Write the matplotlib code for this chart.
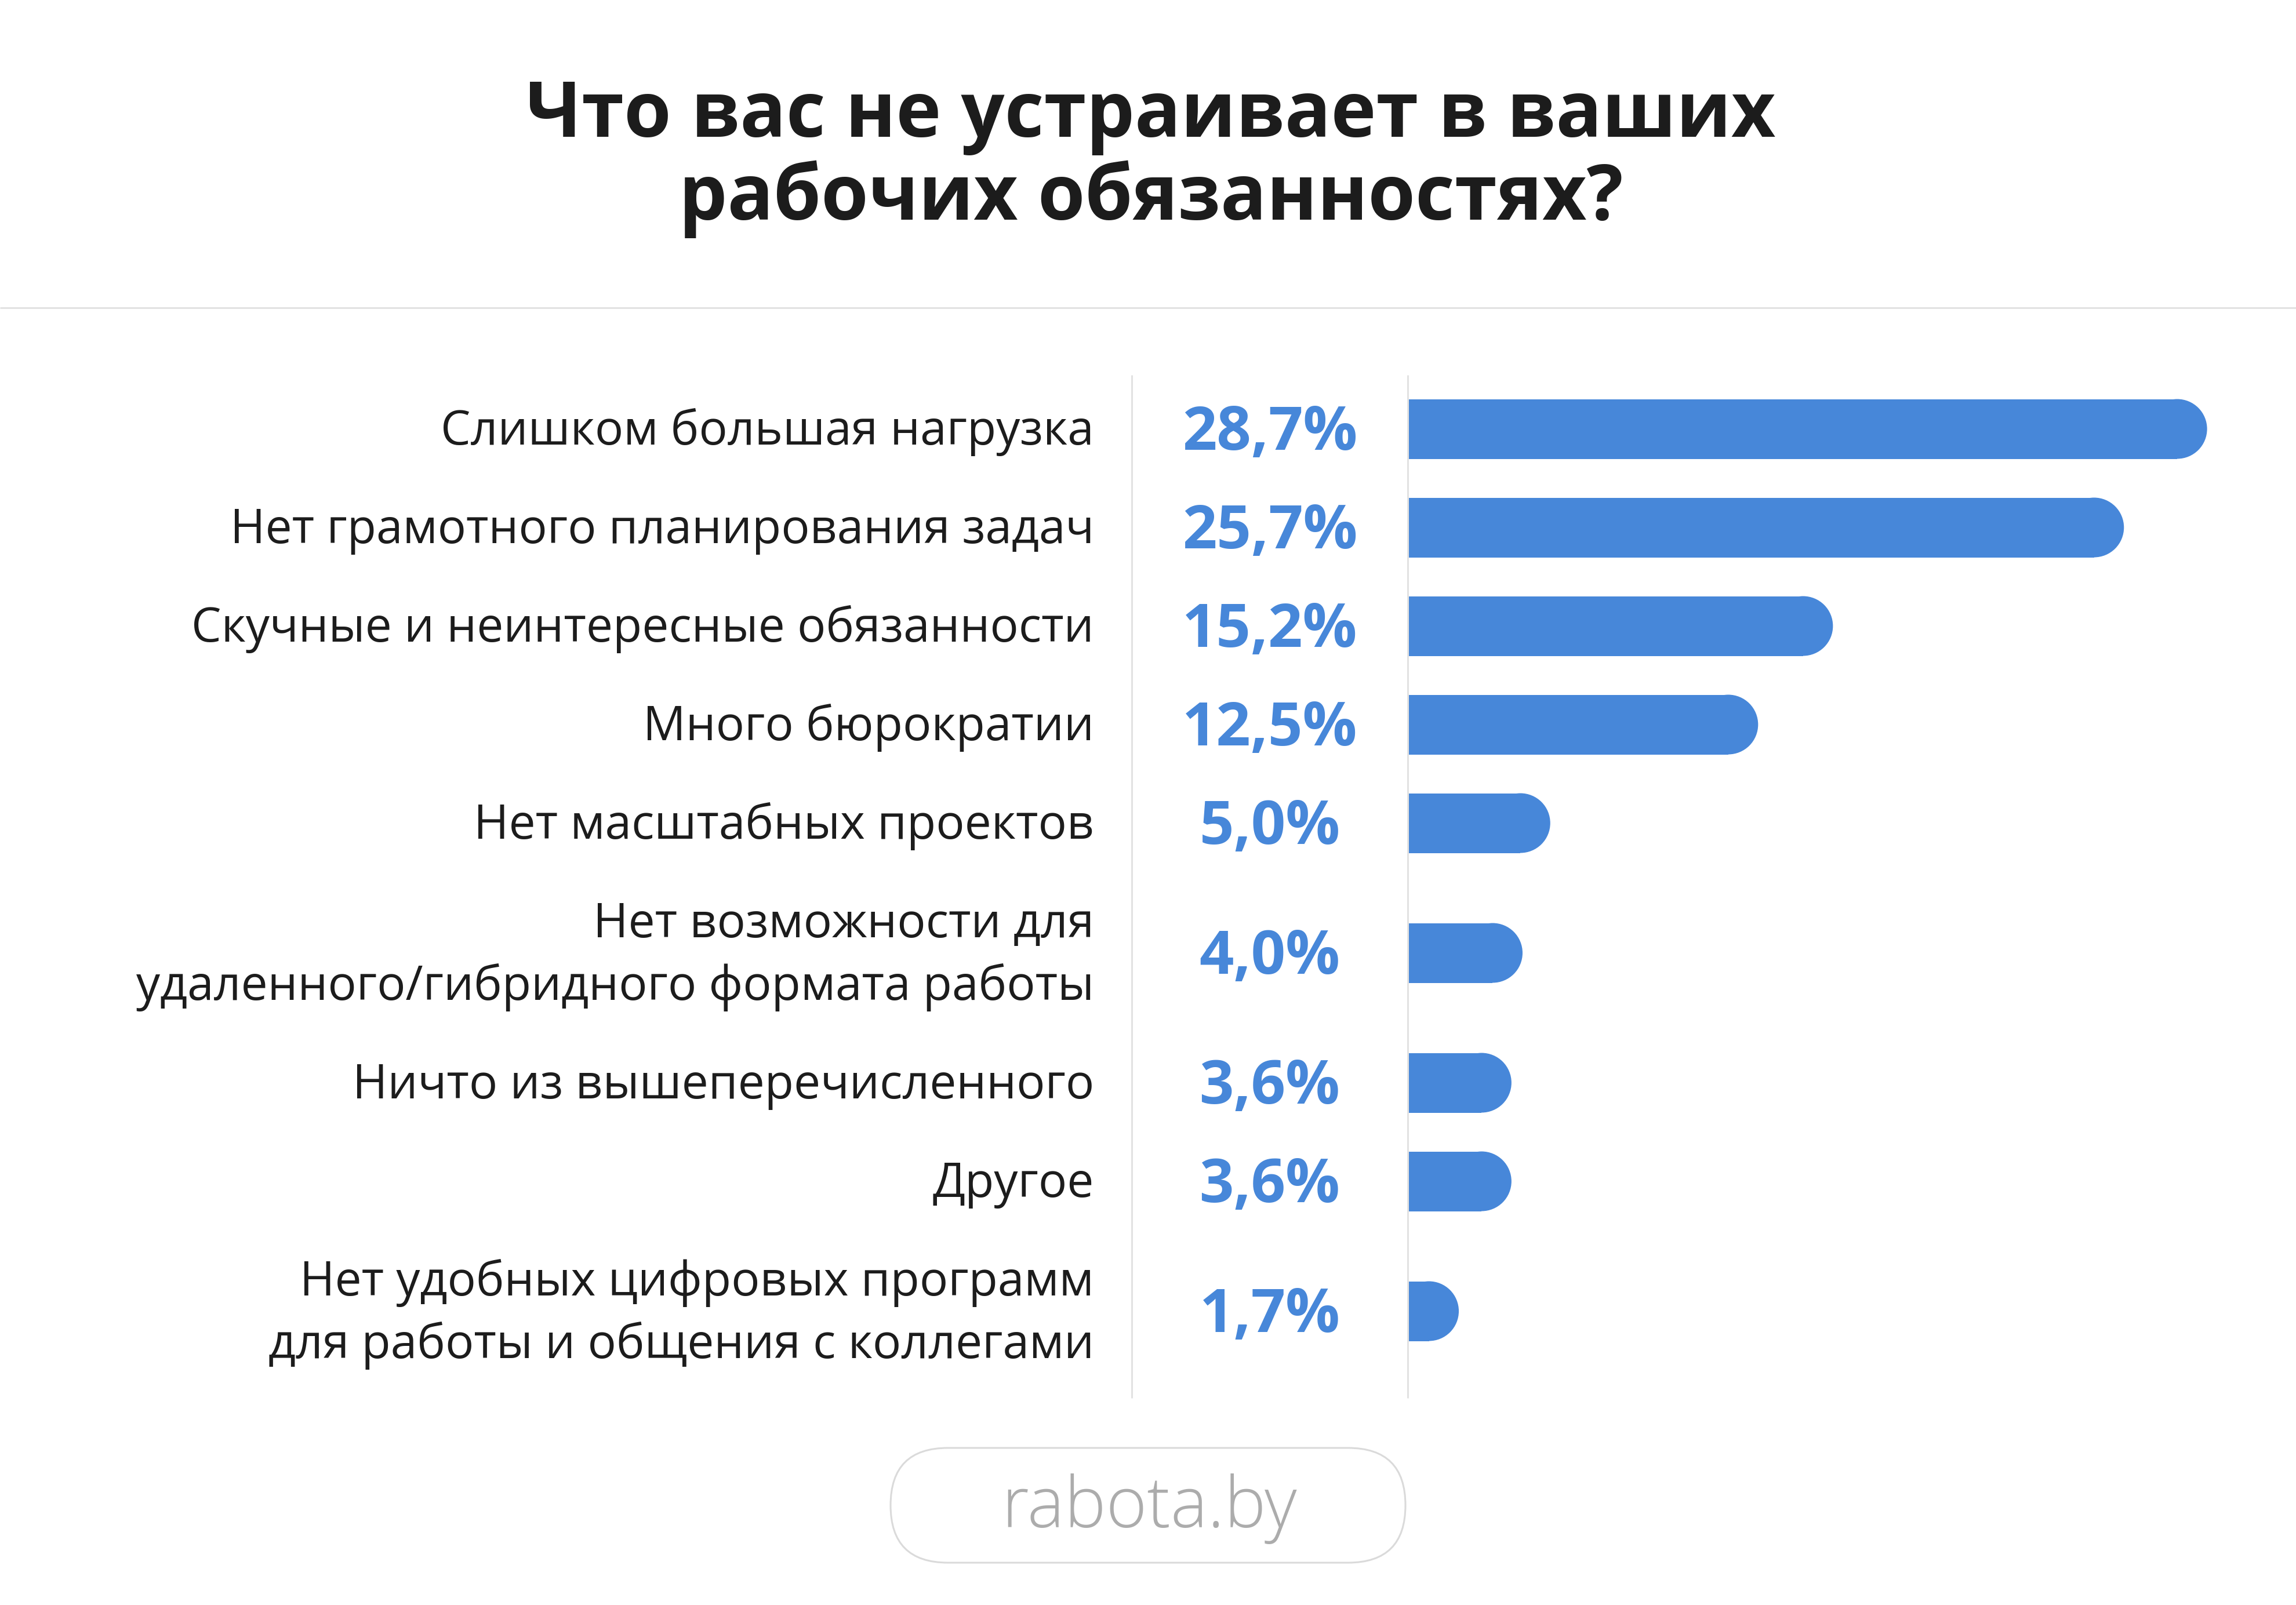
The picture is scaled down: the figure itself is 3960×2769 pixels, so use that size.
import matplotlib
matplotlib.use("Agg")
import matplotlib.pyplot as plt
from matplotlib.patches import Ellipse, FancyBboxPatch

# ---- data ----
categories = [
    "Слишком большая нагрузка",
    "Нет грамотного планирования задач",
    "Скучные и неинтересные обязанности",
    "Много бюрократии",
    "Нет масштабных проектов",
    "Нет возможности для\nудаленного/гибридного формата работы",
    "Ничто из вышеперечисленного",
    "Другое",
    "Нет удобных цифровых программ\nдля работы и общения с коллегами",
]
values = [28.7, 25.7, 15.2, 12.5, 5.0, 4.0, 3.6, 3.6, 1.7]
value_labels = ["28,7%", "25,7%", "15,2%", "12,5%", "5,0%", "4,0%", "3,6%", "3,6%", "1,7%"]
title = "Что вас не устраивает в ваших\nрабочих обязанностях?"
source = "rabota.by"

# ---- style ----
W, H, DPI = 3960, 2769, 100
BLUE = "#4787d9"
TXT = "#1c1c1c"
GRID = "#e2e2e2"
FONT = ["Open Sans", "DejaVu Sans"]
PX_PER_PCT = 47.8
BAR_H = 103
BAR_X0 = 2430

fig = plt.figure(figsize=(W / DPI, H / DPI), dpi=DPI, facecolor="white")
deco = fig.add_axes([0, 0, 1, 1])
deco.set_xlim(0, W)
deco.set_ylim(H, 0)
deco.axis("off")

# row centers from number of lines
centers = []
y = 740
for i, c in enumerate(categories):
    if i > 0:
        extra = (categories[i - 1].count("\n")) + c.count("\n")
        y += 170 + 54 * extra
    centers.append(y)

# title
for k, line in enumerate(title.split("\n")):
    deco.text(1985, 236 + 143 * k, line, ha="center", va="baseline",
              fontsize=95, fontweight="bold", color=TXT, family=FONT)

# separator
deco.plot([0, W], [531, 531], color=GRID, lw=2.2, solid_capstyle="butt")

# vertical lines
for xv in (1952, 2428):
    deco.plot([xv, xv], [647, 2412], color=GRID, lw=2.2, solid_capstyle="butt")

# category labels and values
LINE_GAP = 108
for yc, cat, lab in zip(centers, categories, value_labels):
    lines = cat.split("\n")
    n = len(lines)
    for j, ln in enumerate(lines):
        yy = yc + (j - (n - 1) / 2) * LINE_GAP + 27
        deco.text(1887, yy, ln, ha="right", va="baseline", fontsize=59,
                  color=TXT, family=FONT)
    deco.text(2190, yc + 36, lab, ha="center", va="baseline", fontsize=75,
              fontweight="bold", color=BLUE, family=FONT)

# bars axes
ax = fig.add_axes([BAR_X0 / W, (H - 2412) / H, (W - BAR_X0) / W, (2412 - 647) / H])
ax.set_xlim(-0.1, (W - BAR_X0) / PX_PER_PCT - 0.1)
ax.set_ylim(2412, 647)
ax.axis("off")
ax.patch.set_alpha(0)
rx = (BAR_H / 2) / PX_PER_PCT
for yc, v in zip(centers, values):
    ax.barh(yc, v - rx + 0.1, height=BAR_H, left=-0.1, color=BLUE, linewidth=0)
    ax.add_patch(Ellipse((v - rx, yc), 2 * rx, BAR_H, color=BLUE, linewidth=0))

# footer pill
pill = FancyBboxPatch((1536, 2498), 888, 198,
                      boxstyle="round,pad=0,rounding_size=99",
                      facecolor="white", edgecolor="#dadada", lw=2.2)
deco.add_patch(pill)
deco.text(1982, 2635, source, ha="center", va="baseline", fontsize=87,
          fontweight="light", color="#acacac", family=FONT)

fig.savefig("out.png", dpi=DPI, facecolor="white")
